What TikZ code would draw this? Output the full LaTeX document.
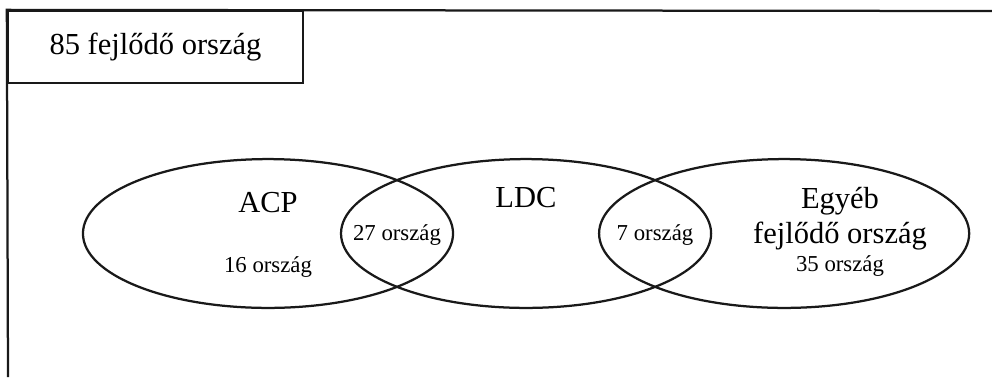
\documentclass[tikz,border=0pt]{standalone}
\usepackage{fontspec}
\setmainfont{Liberation Serif}
\usepackage{tikz}
\usetikzlibrary{shapes.geometric}
\tikzstyle{group} = [ellipse, minimum width=9.25cm, minimum height=3.72cm, draw=black!90, line width=1.6pt, inner sep=0pt]
\tikzstyle{titlebox} = [rectangle, minimum width=7.375cm, minimum height=1.8cm, draw=black!90, line width=1.6pt, font=\fontsize{21.7}{24}\selectfont, text centered]
\tikzstyle{biglabel} = [anchor=base, inner sep=0pt, font=\fontsize{21.7}{24}\selectfont]
\tikzstyle{smalllabel} = [anchor=base, inner sep=0pt, font=\fontsize{16.2}{18}\selectfont]
\tikzstyle{frame} = [draw=black!90, line width=1.6pt]
\begin{document}
\begin{tikzpicture}[x=0.025cm, y=-0.025cm, node distance=6.45cm]
        \useasboundingbox (0,0) rectangle (992,377);

        \node (total) [titlebox] at (155.5,47) {85 fejlődő ország};
        \draw [frame] (8,377) -- (total.north west) -- (992,11);

        \node (ACP) [group] at (268,233.5) {};
        \node (LDC) [group, right of=ACP] {};
        \node (Other) [group, right of=LDC] {};

        \node (ACPname) [biglabel] at (268,212) {ACP};
        \node (ACPcount) [smalllabel] at (268,272) {16 ország};
        \node (ACPLDCcount) [smalllabel] at (397,240) {27 ország};
        \node (LDCname) [biglabel] at (526,207) {LDC};
        \node (LDCOthercount) [smalllabel] at (655,240) {7 ország};
        \node (Othername) [biglabel] at (840,208) {Egyéb};
        \node (Othername2) [biglabel] at (840,243) {fejlődő ország};
        \node (Othercount) [smalllabel] at (840,271) {35 ország};

\end{tikzpicture}
\end{document}
